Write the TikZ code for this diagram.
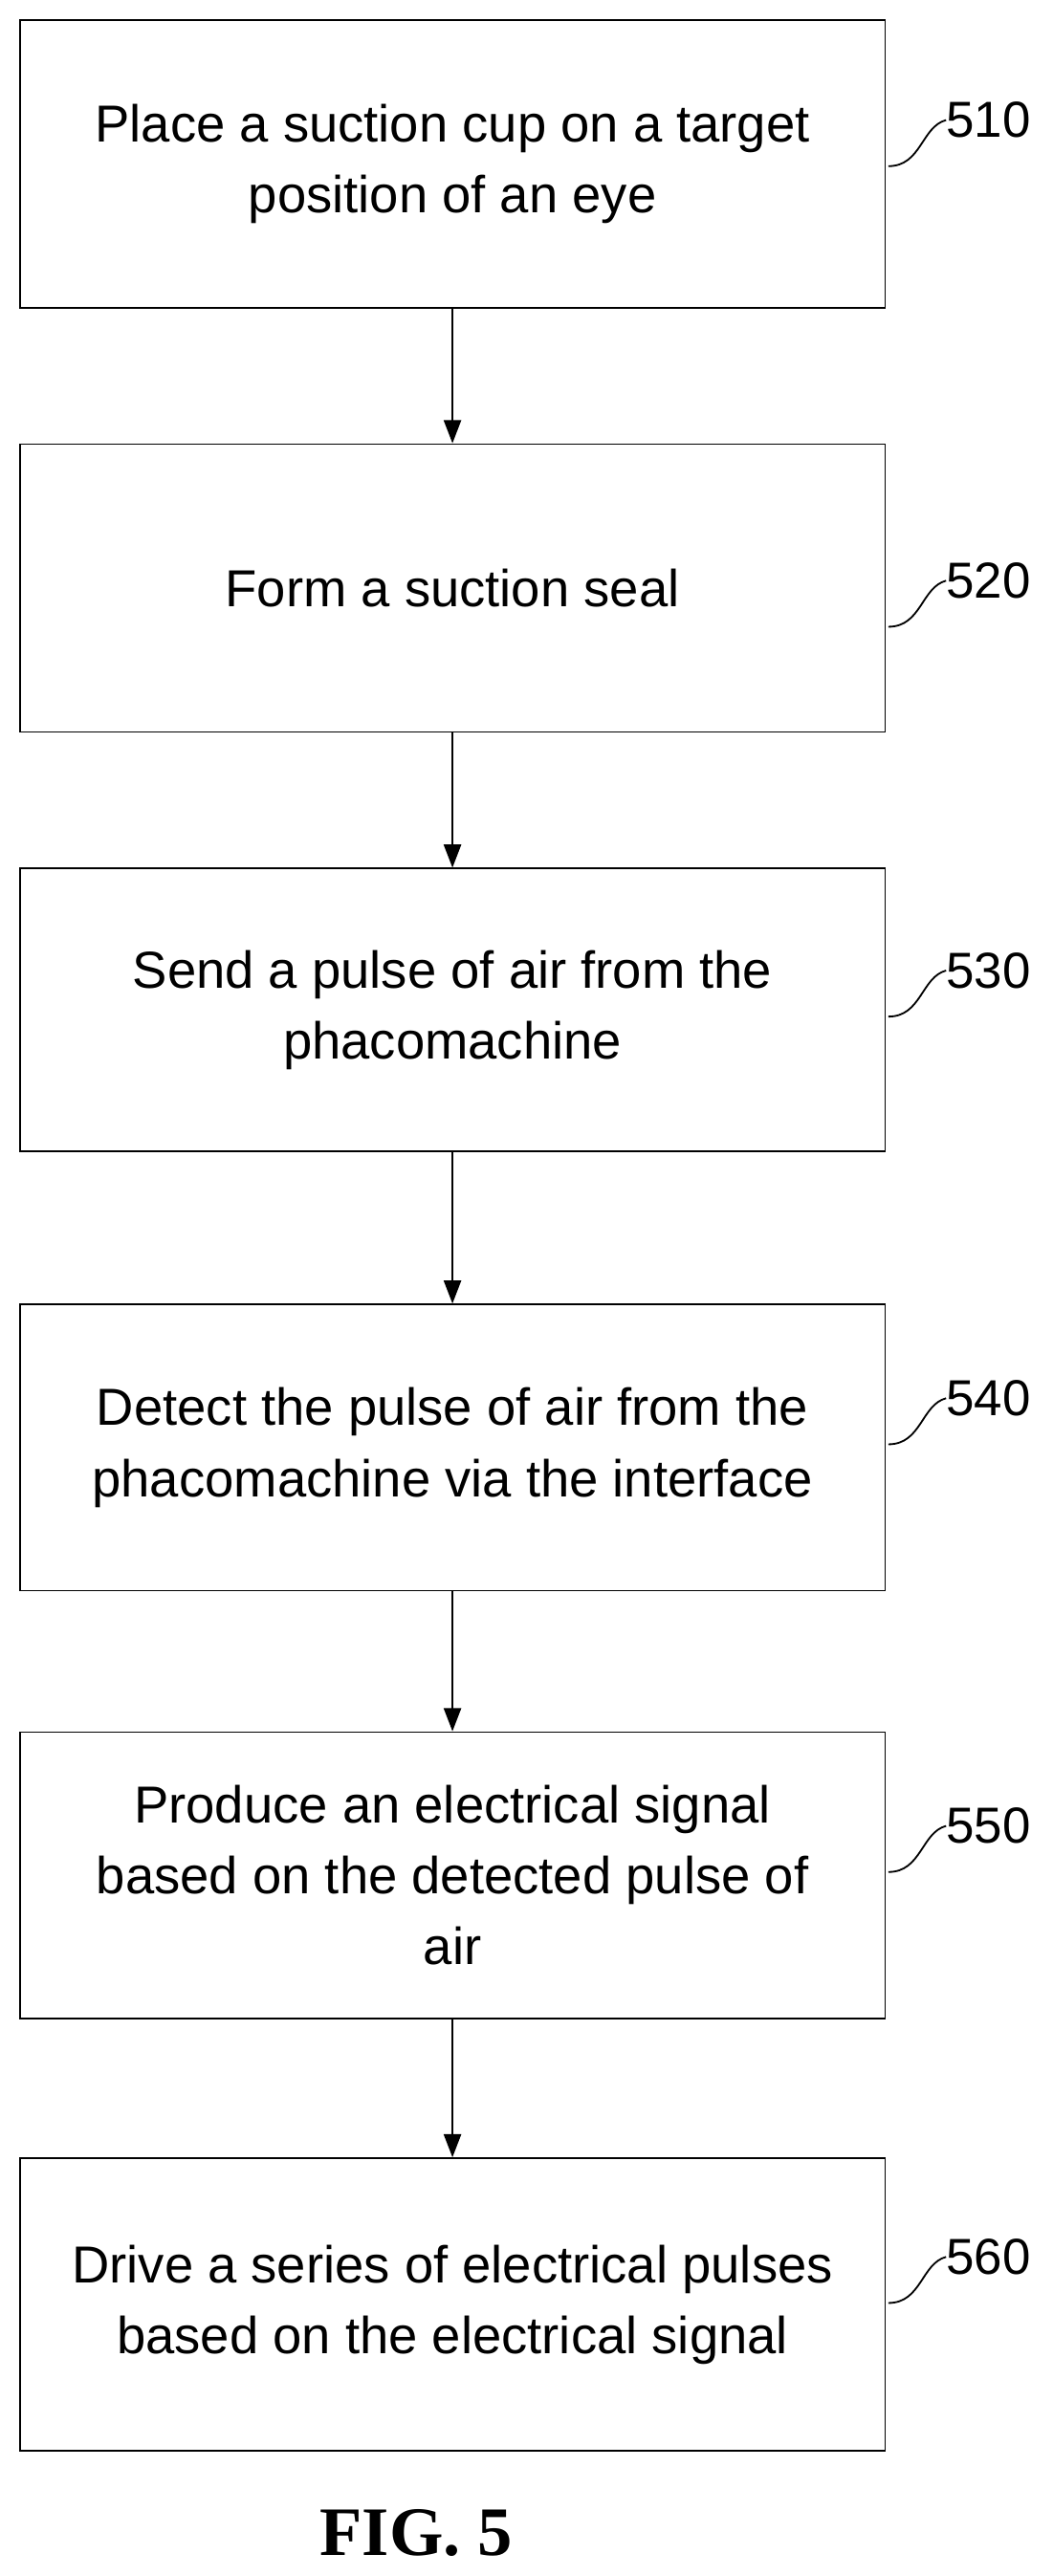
\documentclass[tikz,border=0pt]{standalone}
\usepackage{fontspec}
\setmainfont{Liberation Sans}
\newfontfamily\figfont{Liberation Serif}
\usetikzlibrary{arrows.meta}
\begin{document}
\begin{tikzpicture}[x=0.04cm,y=-0.04cm,
 box/.style={draw,line width=1.2pt,minimum width=526*0.04cm,align=center,font=\fontsize{36}{49}\selectfont,inner sep=0pt},
 arr/.style={line width=1.2pt,-{Triangle[length=16pt,width=12pt]}},
 lead/.style={line width=1.2pt},
 num/.style={font=\fontsize{35}{40}\selectfont,anchor=west,inner sep=0pt}]
\useasboundingbox (0,0) rectangle (640,1566);
\node[box,minimum height=175*0.04cm] (b1) at (275,99.5) {Place a suction cup on a target\\position of an eye};
\node[box,minimum height=175*0.04cm] (b2) at (275,357.5) {Form a suction seal};
\node[box,minimum height=172*0.04cm] (b3) at (275,614) {Send a pulse of air from the\\phacomachine};
\node[box,minimum height=174*0.04cm] (b4) at (275,880) {Detect the pulse of air from the\\phacomachine via the interface};
\node[box,minimum height=174*0.04cm] (b5) at (275,1140) {Produce an electrical signal\\based on the detected pulse of\\air};
\node[box,minimum height=178*0.04cm] (b6) at (275,1401) {Drive a series of electrical pulses\\based on the electrical signal};
\draw[arr] (b1) -- (b2);
\draw[arr] (b2) -- (b3);
\draw[arr] (b3) -- (b4);
\draw[arr] (b4) -- (b5);
\draw[arr] (b5) -- (b6);
\foreach \b/\n/\y in {b1/510/73,b2/520/353,b3/530/590,b4/540/850,b5/550/1110,b6/560/1372}{
 \node[num] (l\n) at (575,\y) {\n};
 \coordinate (s\n) at (540,\y+28);
 \draw[lead] (s\n) .. controls (560,\y+28) and (560,\y+4) .. (l\n.west);
}
\node[font=\figfont\bfseries\fontsize{48}{52}\selectfont] (fig) at (253,1540) {FIG. 5};
\end{tikzpicture}
\end{document}
